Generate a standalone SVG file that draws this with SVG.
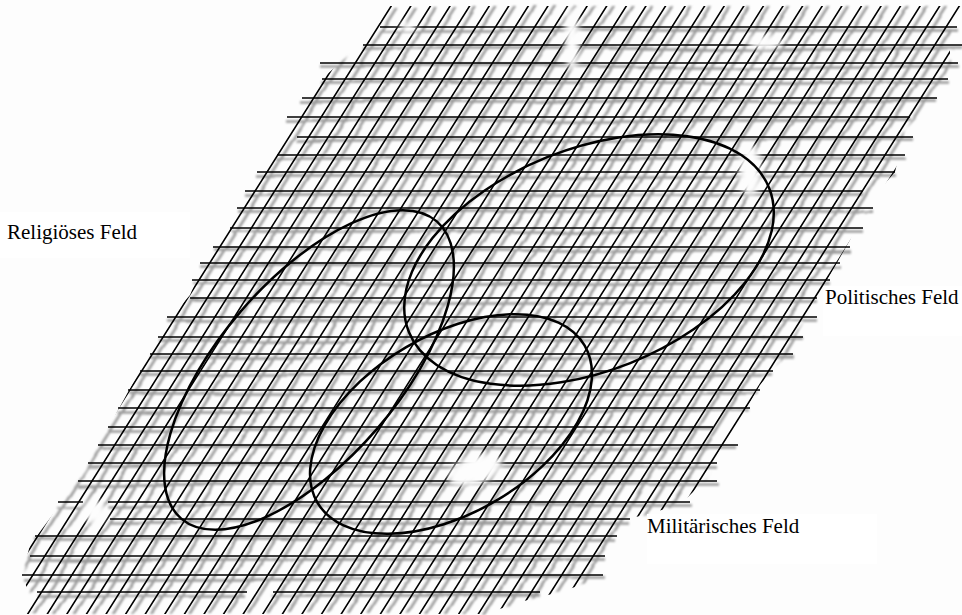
<svg xmlns="http://www.w3.org/2000/svg" width="962" height="615" viewBox="0 0 962 615">
<style>
.bg{fill:#fdfdfd}
.lab{fill:#ffffff}
.grid{stroke:#000;stroke-width:1.6;fill:none}
.ghost{stroke:#9a9a9a;stroke-width:2.6;fill:none}
.field{fill:none;stroke:#000;stroke-width:2.5}
.t{font-family:"Liberation Serif","Times New Roman",serif;font-size:21px;fill:#000}
.hole{fill:#fdfdfd}
</style>
<defs>
<clipPath id="dc"><polygon points="388,6 962,6 950,27 950,63 935,98 905,130 895,172 862,210 850,240 830,275 810,310 790,350 760,385 740,420 720,450 705,480 680,505 625,520 605,550 596,580 560,592 520,602 485,614 25,614 30,595 22,576 30,545 60,505 85,470 110,425 140,370 160,330 190,295 205,260 235,215 255,175 290,130 315,85 360,45 380,22"/></clipPath>
<filter id="wave" x="-3%" y="-3%" width="106%" height="106%">
<feTurbulence type="fractalNoise" baseFrequency="0.006 0.025" numOctaves="1" seed="3" result="n"/>
<feDisplacementMap in="SourceGraphic" in2="n" scale="9" xChannelSelector="R" yChannelSelector="G" result="d"/>
<feGaussianBlur in="d" stdDeviation="1.2"/>
</filter>
<filter id="bl2" x="-60%" y="-60%" width="220%" height="220%"><feGaussianBlur stdDeviation="3"/></filter>
<path id="diag" d="M336.2,0L-51.2,615M355.8,0L-31.6,615M375.4,0L-12,615M395,0L7.6,615M414.6,0L27.1,615M434.2,0L46.7,615M453.8,0L66.3,615M473.4,0L85.9,615M493,0L105.5,615M512.5,0L125.1,615M532.1,0L144.7,615M551.7,0L164.3,615M571.3,0L183.9,615M590.9,0L203.5,615M610.5,0L223,615M630.1,0L242.6,615M649.7,0L262.2,615M669.3,0L281.8,615M688.9,0L301.4,615M708.4,0L321,615M728,0L340.6,615M747.6,0L360.2,615M767.2,0L379.8,615M786.8,0L399.4,615M806.4,0L418.9,615M826,0L438.5,615M845.6,0L458.1,615M865.2,0L477.7,615M884.8,0L497.3,615M904.3,0L516.9,615M923.9,0L536.5,615M943.5,0L556.1,615M963.1,0L575.7,615M982.7,0L595.3,615M1002.3,0L614.8,615M1021.9,0L634.4,615M1041.5,0L654,615"/>
<path id="hor" d="M380,27H957M363,45H962M320,63H958M322,79H948M302,98H937M287,117H910M297,137H913M277,155H905M257,172H895M245,191H863M237,208H873M230,228H863M213,247H850M200,263H840M192,280H830M190,298H817M167,317H817M158,337H803M150,354H793M140,371H773M128,390H760M118,408H750M108,427H713M98,445H738M88,463H717M78,481H717M58,502H83M108,502H690M110,519H630M35,536H617M30,556H605M22,575H603M37,592H247M273,592H540"/>
</defs>
<rect class="bg" x="0" y="0" width="962" height="615"/>
<g id="grid">
<g filter="url(#wave)">
<g clip-path="url(#dc)"><use href="#diag" class="ghost" transform="translate(6,0)"/></g>
<use href="#hor" class="ghost" transform="translate(0,3.5)"/>
</g>
<g clip-path="url(#dc)"><use href="#diag" class="grid"/></g>
<use href="#hor" class="grid"/>
</g>
<g id="holes" filter="url(#bl2)">
<ellipse class="hole" cx="475" cy="470" rx="28" ry="14" transform="rotate(-20 475 470)"/>
<ellipse class="hole" cx="750" cy="170" rx="11" ry="26"/>
<ellipse class="hole" cx="572" cy="40" rx="7" ry="32"/>
<ellipse class="hole" cx="765" cy="42" rx="18" ry="7"/>
<ellipse class="hole" cx="95" cy="512" rx="11" ry="12"/>
<ellipse class="hole" cx="408" cy="27" rx="8" ry="5"/>
</g>
<g id="religioeses-feld">
<ellipse class="field" cx="309" cy="370" rx="196" ry="90" transform="rotate(-49.3 309 370)"/>
<rect class="lab" x="0" y="212" width="190" height="46"/>
<text class="t" x="7" y="239">Religiöses Feld</text>
</g>
<g id="politisches-feld">
<ellipse class="field" cx="589" cy="260" rx="194" ry="111" transform="rotate(-21.8 589 260)"/>
<rect class="lab" x="823" y="286" width="139" height="50"/>
<text class="t" x="825" y="304">Politisches Feld</text>
</g>
<g id="militaerisches-feld">
<ellipse class="field" cx="451" cy="424" rx="155" ry="89" transform="rotate(-30.5 451 424)"/>
<rect class="lab" x="647" y="514" width="230" height="50"/>
<text class="t" x="647" y="533">Militärisches Feld</text>
</g>
</svg>
